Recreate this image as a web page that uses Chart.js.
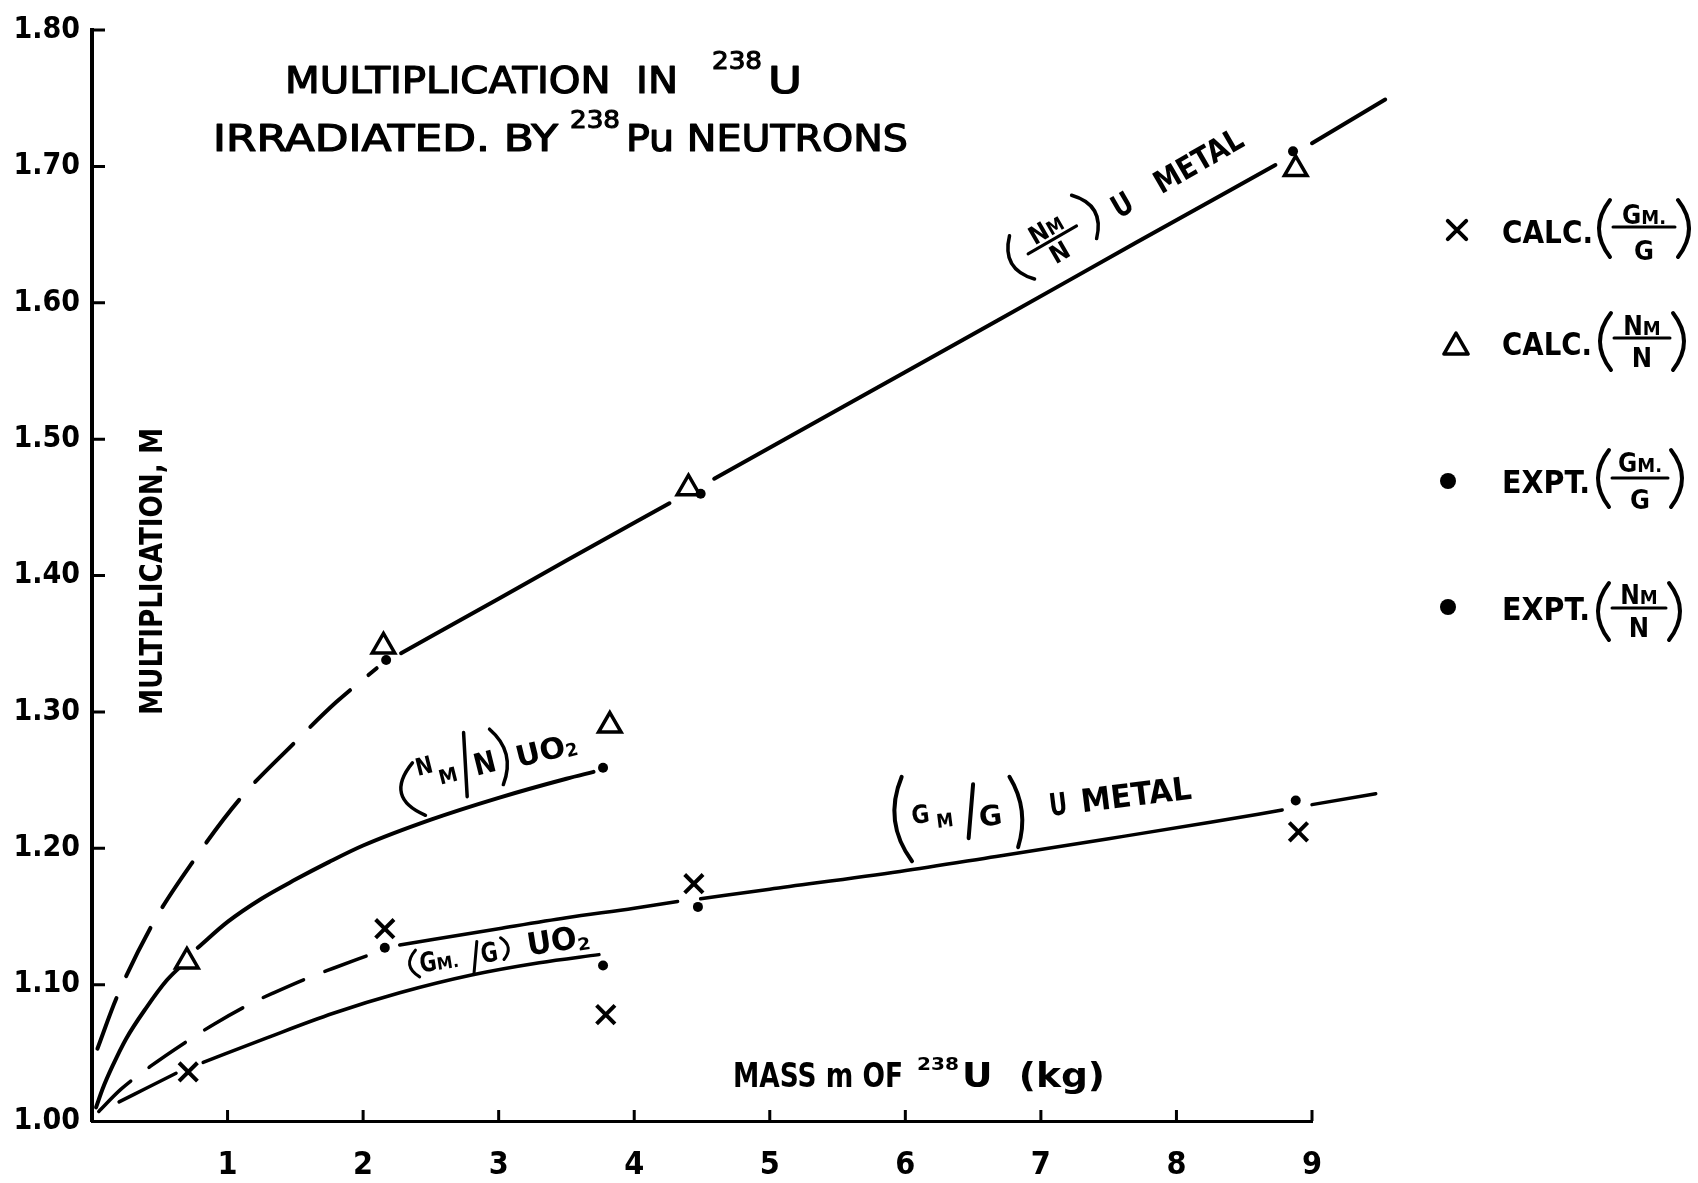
<!DOCTYPE html>
<html>
<head>
<meta charset="utf-8">
<title>Multiplication in 238U</title>
<script src="https://cdn.jsdelivr.net/npm/chart.js@4.4.1/dist/chart.umd.min.js"></script>
<style>
  html, body { margin: 0; padding: 0; background: #fff; }
  canvas { display: block; }
</style>
</head>
<body>
<canvas id="chart" width="1698" height="1183"></canvas>
<script>
// axis ticks
const xTicks = [1, 2, 3, 4, 5, 6, 7, 8, 9];
const yTicks = [1.0, 1.1, 1.2, 1.3, 1.4, 1.5, 1.6, 1.7, 1.8];

// curves; a null y leaves a gap in the drawn line
// (NM/N) U metal
const nmMetalX = [0.04, 0.18, 0.45, 0.75, 1.09, 1.48, 1.8, 2.1, 2.2, 2.28, 3.0, 3.5, 4.26, 4.4, 4.59, 5.6, 6.7, 7.7, 8.73, 8.85, 9.0, 9.54];
const nmMetalY = [1.053, 1.090, 1.145, 1.191, 1.236, 1.276, 1.307, 1.332, null, 1.343, 1.383, 1.411, 1.453, null, 1.471, 1.527, 1.588, 1.644, 1.701, null, 1.717, 1.749];
// (NM/N) UO2
const nmOxideX = [0.03, 0.08, 0.15, 0.25, 0.4, 0.55, 0.66, 0.72, 0.78, 1.0, 1.25, 1.5, 1.75, 2.0, 2.5, 3.0, 3.5, 3.70];
const nmOxideY = [1.010, 1.024, 1.040, 1.060, 1.083, 1.103, 1.114, null, 1.127, 1.146, 1.163, 1.177, 1.190, 1.202, 1.221, 1.237, 1.251, 1.256];
// (GM/G) U metal
const gmMetalX = [0.05, 0.21, 0.43, 0.74, 0.90, 1.19, 1.34, 1.62, 1.78, 2.05, 2.16, 2.27, 3.0, 3.5, 4.0, 4.32, 4.4, 4.49, 5.0, 5.96, 6.67, 7.5, 8.25, 8.78, 8.9, 9.0, 9.47];
const gmMetalY = [1.007, 1.023, 1.040, 1.061, 1.071, 1.087, 1.094, 1.106, 1.112, 1.122, null, 1.129, 1.141, 1.149, 1.156, 1.161, null, 1.163, 1.170, 1.183, 1.194, 1.207, 1.219, 1.228, null, 1.232, 1.240];
// (GM/G) UO2
const gmOxideX = [0.2, 0.4, 0.62, 0.71, 0.82, 1.29, 1.78, 2.27, 2.8, 3.3, 3.74];
const gmOxideY = [1.014, 1.024, 1.035, null, 1.043, 1.061, 1.079, 1.094, 1.107, 1.116, 1.122];

// plotted points
const calcGX = [0.71, 2.16, 3.79, 4.44, 8.90];
const calcGY = [1.036, 1.141, 1.078, 1.174, 1.212];
const calcNX = [0.70, 2.15, 3.82, 4.40, 8.88];
const calcNY = [1.117, 1.348, 1.290, 1.464, 1.698];
const exptGX = [2.16, 3.77, 4.47, 8.88];
const exptGY = [1.127, 1.114, 1.157, 1.235];
const exptNX = [2.17, 3.77, 4.49, 8.86];
const exptNY = [1.338, 1.259, 1.460, 1.711];

const FAMILY = '"DejaVu Sans Condensed", "DejaVu Sans", sans-serif';
const F = (size, weight) => (weight || 'bold') + ' ' + size + 'px ' + FAMILY;

const pts = (xs, ys) => xs.map((x, i) => ({ x: x, y: ys[i] }));

const markX = { pointStyle: 'crossRot', radius: 13, borderWidth: 4, fill: '#000' };
const markTri = { pointStyle: 'triangle', radius: 13, borderWidth: 3.5, fill: '#fff' };
const markDot = { pointStyle: 'circle', radius: 5, borderWidth: 0, fill: '#000' };

function markerSet(xs, ys, m) {
  return {
    data: pts(xs, ys), showLine: false, clip: false,
    pointStyle: m.pointStyle, pointRadius: m.radius, pointBorderWidth: m.borderWidth,
    pointBorderColor: '#000', pointBackgroundColor: m.fill
  };
}

function curveSet(xs, ys, width, dash, dashUntil) {
  return {
    data: pts(xs, ys), showLine: true, pointRadius: 0, clip: false,
    borderColor: '#000', borderWidth: width, borderCapStyle: 'round',
    cubicInterpolationMode: 'monotone',
    segment: { borderDash: c => (c.p0.parsed.x < dashUntil ? dash : undefined) }
  };
}

// ---------- text helpers ----------
function fitText(ctx, str, x, y, w, stroke) {
  const m = ctx.measureText(str).width;
  ctx.save();
  ctx.translate(x, y);
  ctx.scale(w ? w / m : 1, 1);
  ctx.fillText(str, 0, 0);
  if (stroke) { ctx.lineWidth = stroke; ctx.strokeText(str, 0, 0); }
  ctx.restore();
}
function partsWidth(ctx, parts) {
  return parts.reduce((s, p) => { ctx.font = F(p[1]); return s + ctx.measureText(p[0]).width; }, 0);
}
function drawParts(ctx, parts, x, y) {
  parts.forEach(p => { ctx.font = F(p[1]); ctx.fillText(p[0], x, y); x += ctx.measureText(p[0]).width; });
}
function runWidth(ctx, r) {
  if (r.w) return r.w;
  if (r.gap) return r.gap;
  ctx.font = F(r.size);
  return ctx.measureText(r.t).width;
}
function drawRun(ctx, r, x, w) {
  ctx.lineWidth = r.lw || 3.5;
  if (r.paren) {
    const t = r.paren[0], b = r.paren[1], m = (t + b) / 2;
    const e = r.open ? x + w - 2 : x + 2;
    const c = r.open ? e - 2 * (w - 4) : e + 2 * (w - 4);
    ctx.beginPath(); ctx.moveTo(e, t); ctx.quadraticCurveTo(c, m, e, b); ctx.stroke();
  } else if (r.slash) {
    ctx.beginPath(); ctx.moveTo(x + 2, r.slash[1]); ctx.lineTo(x + w - 2, r.slash[0]); ctx.stroke();
  } else if (r.num) {
    const nw = partsWidth(ctx, r.num), dw = partsWidth(ctx, r.den);
    drawParts(ctx, r.num, x + (w - nw) / 2, r.numY);
    drawParts(ctx, r.den, x + (w - dw) / 2, r.denY);
    ctx.lineWidth = 3;
    ctx.beginPath(); ctx.moveTo(x + 1, r.bar); ctx.lineTo(x + w - 1, r.bar); ctx.stroke();
  } else if (r.t) {
    ctx.font = F(r.size);
    fitText(ctx, r.t, x, r.dy || 0, r.w);
  }
}
function drawRuns(ctx, runs, x, y, deg, centered) {
  ctx.save();
  ctx.translate(x, y);
  ctx.rotate(deg * Math.PI / 180);
  const ws = runs.map(r => runWidth(ctx, r));
  let cx = centered ? -ws.reduce((a, b) => a + b, 0) / 2 : 0;
  runs.forEach((r, i) => { drawRun(ctx, r, cx, ws[i]); cx += ws[i]; });
  ctx.restore();
}

// labels written along the curves (anchor in data units, baseline centre)
const curveLabels = [
  { at: [7.67, 1.667], angle: -30, runs: [
    { paren: [-40, 10], open: true, w: 16 }, { gap: 4 },
    { num: [['N', 25], ['M', 19]], den: [['N', 25]], bar: -15, numY: -19, denY: 8, w: 58 },
    { gap: 8 }, { paren: [-44, 6], w: 16 }, { gap: 15 },
    { t: 'U', size: 31, w: 20 }, { gap: 29 }, { t: 'METAL', size: 31, w: 98 }
  ] },
  { at: [2.92, 1.259], angle: -14, runs: [
    { paren: [-23, 31], open: true, w: 22 },
    { t: 'N', size: 24, dy: -9, w: 17 }, { gap: 3 },
    { t: 'M', size: 20, dy: 5, w: 19 }, { gap: 2 },
    { slash: [-40, 23], w: 16 },
    { t: 'N', size: 30, dy: 5, w: 22 },
    { paren: [-37, 20], w: 14 }, { gap: 7 },
    { t: 'UO', size: 29, dy: 7, w: 50 }, { t: '2', size: 18, dy: 9, w: 12 }
  ] },
  { at: [7.02, 1.223], angle: -7, runs: [
    { paren: [-57, 28], open: true, w: 16, lw: 4 }, { gap: 3 },
    { t: 'G', size: 25, dy: -9, w: 18 }, { gap: 6 },
    { t: 'M', size: 19, dy: -2, w: 17 }, { gap: 11 },
    { slash: [-41, 12], w: 15, lw: 4 },
    { t: 'G', size: 28, dy: 2, w: 23 }, { gap: 10 },
    { paren: [-44, 27], w: 12, lw: 4 }, { gap: 26 },
    { t: 'U', size: 31, w: 18 }, { gap: 14 }, { t: 'METAL', size: 32, w: 111 }
  ] },
  { at: [3.01, 1.118], angle: -9, runs: [
    { paren: [-23, 4], open: true, w: 12, lw: 3 },
    { t: 'G', size: 27, w: 17 }, { t: 'M.', size: 17, w: 22 }, { gap: 11 },
    { slash: [-22, 10], w: 12, lw: 3 },
    { t: 'G', size: 27, w: 17 }, { gap: 3 },
    { paren: [-22, 0], w: 10, lw: 3 }, { gap: 17 },
    { t: 'UO', size: 31, w: 50 }, { t: '2', size: 17, dy: 3, w: 13 }
  ] }
];

// legend at the right
const legendRows = [
  { mark: markX, mx: 1457, my: 230, base: 243, runs: [
    { t: 'CALC.', size: 32, w: 91 }, { gap: 4 }, { paren: [-43, 14], open: true, w: 15, lw: 4 },
    { num: [['G', 26], ['M.', 20]], den: [['G', 27]], bar: -16, numY: -19, denY: 17, w: 64 },
    { paren: [-43, 14], w: 15, lw: 4 }
  ] },
  { mark: Object.assign({}, markTri, { radius: 14 }), mx: 1456, my: 347, base: 355, runs: [
    { t: 'CALC.', size: 32, w: 90 }, { gap: 6 }, { paren: [-42, 15], open: true, w: 15, lw: 4 },
    { num: [['N', 26], ['M', 20]], den: [['N', 27]], bar: -17, numY: -20, denY: 12, w: 58 },
    { paren: [-42, 15], w: 15, lw: 4 }
  ] },
  { mark: Object.assign({}, markDot, { radius: 8 }), mx: 1448, my: 481, base: 493, runs: [
    { t: 'EXPT.', size: 32, w: 88 }, { gap: 6 }, { paren: [-43, 14], open: true, w: 15, lw: 4 },
    { num: [['G', 26], ['M.', 20]], den: [['G', 27]], bar: -15, numY: -21, denY: 16, w: 58 },
    { paren: [-43, 14], w: 15, lw: 4 }
  ] },
  { mark: Object.assign({}, markDot, { radius: 8 }), mx: 1448, my: 607, base: 620, runs: [
    { t: 'EXPT.', size: 32, w: 88 }, { gap: 6 }, { paren: [-37, 20], open: true, w: 15, lw: 4 },
    { num: [['N', 26], ['M', 20]], den: [['N', 27]], bar: -12, numY: -16, denY: 17, w: 56 },
    { paren: [-37, 20], w: 15, lw: 4 }
  ] }
];

// short tick marks pointing into the plot
const tickMarks = {
  id: 'tickMarks',
  afterDraw(chart) {
    const { ctx, chartArea: a, scales: { x, y } } = chart;
    ctx.save();
    ctx.strokeStyle = '#000';
    ctx.lineWidth = 3;
    ctx.beginPath();
    yTicks.forEach(v => {
      if (v === yTicks[0]) return;
      const py = y.getPixelForValue(v);
      ctx.moveTo(a.left, py); ctx.lineTo(a.left + 13, py);
    });
    xTicks.forEach(v => {
      const px = x.getPixelForValue(v);
      ctx.moveTo(px, a.bottom); ctx.lineTo(px, a.bottom - 11);
    });
    ctx.stroke();
    ctx.restore();
  }
};

const annotations = {
  id: 'annotations',
  afterDraw(chart) {
    const { ctx, scales: { x, y } } = chart;
    ctx.save();
    ctx.fillStyle = '#000';
    ctx.strokeStyle = '#000';
    ctx.textAlign = 'left';
    ctx.textBaseline = 'alphabetic';
    ctx.lineCap = 'round';
    ctx.lineJoin = 'round';

    // title
    ctx.font = F(38, 'normal'); fitText(ctx, 'MULTIPLICATION  IN', 285, 93, 393, 1.2);
    ctx.font = F(24, 'normal'); fitText(ctx, '238', 712, 69, 50, 1);
    ctx.font = F(38, 'normal'); fitText(ctx, 'U', 768, 93, 34, 1.2);
    ctx.font = F(38, 'normal'); fitText(ctx, 'IRRADIATED. BY', 213, 151, 345, 1.2);
    ctx.font = F(24, 'normal'); fitText(ctx, '238', 570, 128, 50, 1);
    ctx.font = F(38, 'normal'); fitText(ctx, 'Pu NEUTRONS', 626, 151, 282, 1.2);

    // axis titles (drawn inside the plot as in the original)
    ctx.save();
    ctx.translate(162, 715);
    ctx.rotate(-Math.PI / 2);
    ctx.font = F(32);
    fitText(ctx, 'MULTIPLICATION, M', 0, 0, 287);
    ctx.restore();
    ctx.font = F(33); fitText(ctx, 'MASS m OF', 733, 1087, 170);
    ctx.font = F(18); fitText(ctx, '238', 917, 1070, 42);
    ctx.font = F(33); fitText(ctx, 'U  (kg)', 962, 1087, 143);

    // curve labels
    curveLabels.forEach(l => {
      drawRuns(ctx, l.runs, x.getPixelForValue(l.at[0]), y.getPixelForValue(l.at[1]), l.angle, true);
    });

    // legend
    legendRows.forEach(r => {
      const m = r.mark;
      ctx.fillStyle = m.fill;
      ctx.strokeStyle = '#000';
      ctx.lineWidth = m.borderWidth;
      Chart.helpers.drawPoint(ctx, { pointStyle: m.pointStyle, radius: m.radius, borderWidth: m.borderWidth, rotation: 0 }, r.mx, r.my);
      ctx.fillStyle = '#000';
      drawRuns(ctx, r.runs, 1502, r.base, 0, false);
    });
    ctx.restore();
  }
};

new Chart(document.getElementById('chart'), {
  type: 'scatter',
  data: {
    datasets: [
      markerSet(exptNX, exptNY, markDot),
      markerSet(exptGX, exptGY, markDot),
      markerSet(calcNX, calcNY, markTri),
      markerSet(calcGX, calcGY, markX),
      curveSet(nmMetalX, nmMetalY, 4, [54, 24], 2.2),
      curveSet(nmOxideX, nmOxideY, 4, [], -1),
      curveSet(gmMetalX, gmMetalY, 3.5, [44, 23], 2.2),
      curveSet(gmOxideX, gmOxideY, 3.5, [], -1)
    ]
  },
  options: {
    responsive: false,
    animation: false,
    devicePixelRatio: 1,
    layout: { padding: { top: 23, right: 386, left: 0, bottom: 0 }, autoPadding: false },
    plugins: { legend: { display: false }, tooltip: { enabled: false } },
    scales: {
      x: {
        type: 'linear',
        position: 'bottom',
        bounds: 'data',
        afterDataLimits: s => { s.min = 0; s.max = 9; },
        afterBuildTicks: s => { s.ticks = xTicks.map(v => ({ value: v })); },
        afterFit: s => { s.height = 62; },
        grid: { display: true, drawOnChartArea: false, drawTicks: false },
        border: { display: true, color: '#000', width: 3 },
        ticks: {
          color: '#000', padding: 25, autoSkip: false, maxRotation: 0,
          font: { family: FAMILY, size: 32, weight: 'bold' },
          callback: v => String(v)
        }
      },
      y: {
        type: 'linear',
        position: 'left',
        min: 1.0,
        max: 1.8,
        afterBuildTicks: s => { s.ticks = yTicks.map(v => ({ value: v })); },
        afterFit: s => { s.width = 92; },
        grid: { display: true, drawOnChartArea: false, drawTicks: false },
        border: { display: true, color: '#000', width: 4 },
        ticks: {
          color: '#000', padding: 12, autoSkip: false,
          font: { family: FAMILY, size: 30, weight: 'bold' },
          callback: v => v.toFixed(2)
        }
      }
    }
  },
  plugins: [tickMarks, annotations]
});
</script>
</body>
</html>
